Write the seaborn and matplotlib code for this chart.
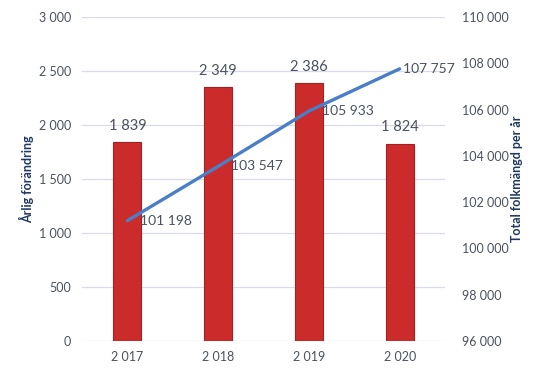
import matplotlib
matplotlib.use("Agg")
import matplotlib.pyplot as plt
import seaborn as sns
import pandas as pd
from matplotlib.ticker import FuncFormatter

years = ["2 017", "2 018", "2 019", "2 020"]
annual_change = [1839, 2349, 2386, 1824]
population = [101198, 103547, 105933, 107757]

sns.set_theme(style="white")
plt.rcParams['font.family'] = ['Lato', 'DejaVu Sans']

def fmt(v):
    return f"{int(round(v)):,}".replace(",", " ")

df = pd.DataFrame({"year": years, "change": annual_change, "pop": population})

fig = plt.figure(figsize=(5.41, 3.76), dpi=100)
ax = fig.add_axes([82/541, 0.093, 363/541, 0.862])
ax2 = ax.twinx()

txt = "#4A5260"
navy = "#1F3864"

sns.barplot(data=df, x="year", y="change", ax=ax, color="#CC2B2B", width=0.31,
            saturation=1, edgecolor="#A51F1F", linewidth=0.8, zorder=2)
ax.set_ylim(0, 3000)
ax.set_yticks(range(0, 3001, 500))
ax.yaxis.set_major_formatter(FuncFormatter(lambda v, p: fmt(v)))
ax.grid(axis="y", color="#D9DBE8", linewidth=0.9, zorder=0)
ax.set_axisbelow(True)
for s in ax.spines.values():
    s.set_visible(False)
ax.tick_params(axis="y", length=0, colors=txt, labelsize=9, pad=8)
ax.tick_params(axis="x", length=0, colors=txt, labelsize=9, pad=7)
ax.set_xlabel("")
ax.set_ylabel("Årlig förändring", color=navy, fontsize=9, fontweight="bold", labelpad=3)

for i, v in enumerate(annual_change):
    ax.text(i, v + 90, fmt(v), ha="center", va="bottom", color=txt, fontsize=10.5)

sns.lineplot(x=list(range(len(years))), y=population, ax=ax2, color="#4A7EC6",
             linewidth=2.4, zorder=3)
ax2.set_ylim(96000, 110000)
ax2.set_yticks(range(96000, 110001, 2000))
ax2.yaxis.set_major_formatter(FuncFormatter(lambda v, p: fmt(v)))
for s in ax2.spines.values():
    s.set_visible(False)
ax2.tick_params(axis="y", length=0, colors=txt, labelsize=9, pad=12)
ax2.set_ylabel("Total folkmängd per år", color=navy, fontsize=9, fontweight="bold", labelpad=2)
ax2.grid(False)

offsets = [0.14, 0.14, 0.14, 0.04]
for i, v in enumerate(population):
    ax2.text(i + offsets[i], v, fmt(v), ha="left", va="center", color=txt, fontsize=10)

ax.set_xlim(-0.5, 3.5)
fig.savefig("out.png", dpi=100)
